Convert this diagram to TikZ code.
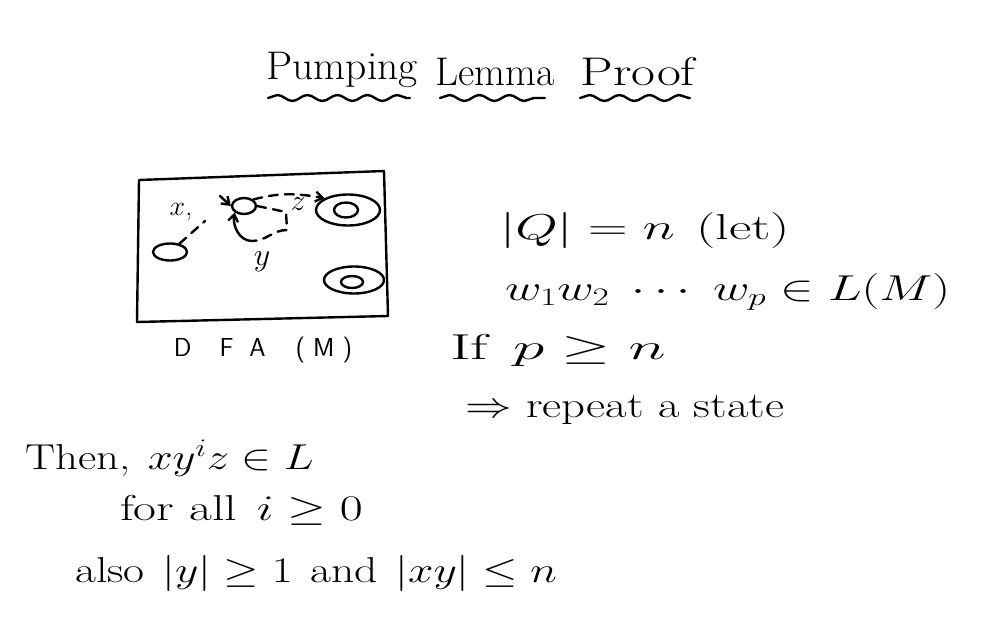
\RequirePackage{fix-cm}
\documentclass[tikz,border=0pt]{standalone}
\usepackage{graphicx}
\usetikzlibrary{decorations.pathmorphing,arrows.meta,shapes.geometric}
\begin{document}
\begin{tikzpicture}[x=1pt,y=-1pt,
  ink/.style={line width=2.4pt,line cap=round,line join=round},
  hand/.style={font=\fontsize{36}{42}\selectfont,inner sep=0pt,anchor=west},
  titlefont/.style={font=\fontsize{40}{46}\selectfont,inner sep=0pt},
  wave/.style={ink,decorate,decoration={snake,amplitude=3pt,segment length=30pt}},
  dsh/.style={ink,dash pattern=on 9pt off 7pt},
  tip/.style={-{Straight Barb[length=7pt,width=10pt]}},
  st/.style={ellipse,draw,ink,inner sep=0pt}]
\useasboundingbox (0,0) rectangle (982,629);
% title
\node[titlefont] (w1) at (342,70) {\scalebox{1.04}[1]{Pumping}};
\node[titlefont] (w2) at (495,72) {Lemma};
\node[titlefont] (w3) at (638,72) {\scalebox{1.3}[1]{Proof}};
\draw[wave] (268,98) -- (410,98);
\draw[wave] (440,98) -- (545,98);
\draw[wave] (580,98) -- (690,98);
% DFA box
\draw[ink] (139,180) -- (384,171) -- (388,316) -- (137,322) -- cycle;
\node[st,minimum width=34pt,minimum height=17pt] (q0) at (170,252) {};
\node[st,minimum width=24pt,minimum height=16pt] (q1) at (244,206) {};
\node[st,minimum width=64pt,minimum height=31pt] (f1) at (348,210) {};
\node[st,minimum width=24pt,minimum height=15pt] (f1i) at (346,210) {};
\node[st,minimum width=60pt,minimum height=27pt] (f2) at (354,280) {};
\node[st,minimum width=22pt,minimum height=12pt] (f2i) at (352,282) {};
\node[font=\fontsize{28}{32}\selectfont,inner sep=0pt] (lx) at (181,212) {$x$,};
\node[font=\fontsize{30}{34}\selectfont,inner sep=0pt] (lz) at (298,204) {$z$};
\node[font=\fontsize{32}{36}\selectfont,inner sep=0pt] (ly) at (262,262) {$y$};
\coordinate (xs) at (220,196);
\coordinate (x1) at (205,221);
\coordinate (y1) at (286,212);
\coordinate (y2) at (287,230);
\coordinate (y3) at (252,241);
\draw[dsh] (q0) -- (x1);
\draw[ink,tip] (xs) -- (q1.west);
\draw[dsh,tip] (q1.north east) to[out=15,in=170] (f1.north west);
\draw[dsh] (q1.east) -- (y1) -- (y2) to[out=180,in=0] (y3);
\draw[ink,tip] (y3) to[out=180,in=-100] (q1.south west);
\node[font=\fontsize{26}{30}\selectfont\sffamily,inner sep=0pt] (dfa) at (263,350) {D\hspace{28pt}F\hspace{16pt}A\hspace{30pt}(\hspace{8pt}M\hspace{8pt})};
% right texts
\node[hand] (t1) at (500,230) {\scalebox{1.52}[1]{$|Q| = n$\hspace{14pt}(let)}};
\node[hand] (t2) at (505,292) {\scalebox{1.40}[1]{$w_1 w_2 \;\cdots\; w_p \in L(M)$}};
\node[hand] (t3) at (450,350) {\scalebox{1.76}[1]{If\hspace{14pt}$p \geq n$}};
\node[hand] (t4) at (465,410) {\scalebox{1.30}[1]{$\Rightarrow$ repeat a state}};
% bottom texts
\node[hand] (t5) at (25,458) {\scalebox{1.245}[1]{Then,\hspace{14pt}$x y^i z \in L$}};
\node[hand] (t6) at (120,510) {\scalebox{1.385}[1]{for all\hspace{14pt}$i \geq 0$}};
\node[hand] (t7) at (75,573) {\scalebox{1.265}[1]{also\hspace{14pt}$|y| \geq 1$\hspace{14pt}and\hspace{14pt}$|xy| \leq n$}};
\end{tikzpicture}
\end{document}
